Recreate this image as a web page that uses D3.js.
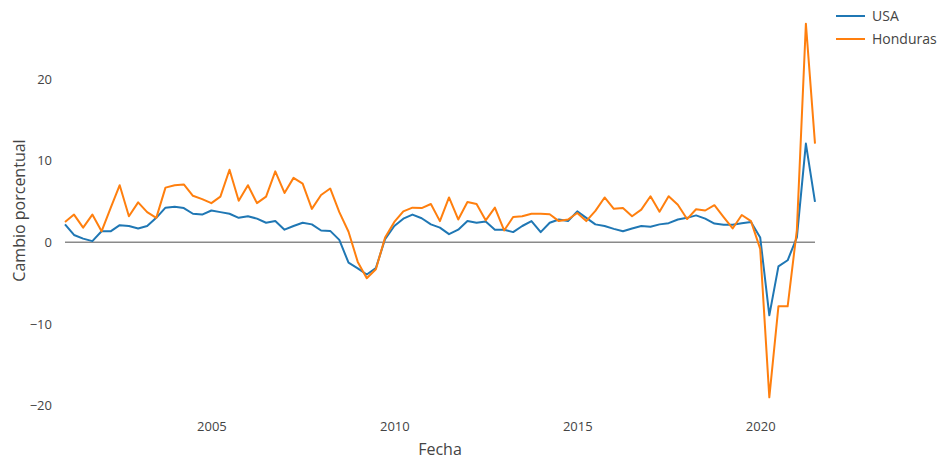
<!DOCTYPE html>
<html lang="es">
<head>
  <meta charset="UTF-8">
  <title>Cambio porcentual</title>
  <script src="https://d3js.org/d3.v7.min.js"></script>
  <style>
    body {
      margin: 0;
      background-color: #ffffff;
      font-family: "Open Sans", Verdana, Arial, sans-serif;
    }
    svg text {
      fill: #444444;
    }
  </style>
</head>
<body>
  <div id="chart"></div>

  <script>
    // quarterly series, 2001Q1 .. 2021Q3
    const firstQuarter = new Date(2001, 0, 1);
    const lastQuarter = new Date(2021, 6, 1);

    const usa = [
      2.2, 0.9, 0.45, 0.15, 1.35, 1.35, 2.1, 2.0, 1.7, 2.0,
      3.0, 4.25, 4.35, 4.2, 3.5, 3.4, 3.9, 3.7, 3.5, 3.0,
      3.2, 2.9, 2.4, 2.6, 1.55, 2.0, 2.4, 2.2, 1.45, 1.4,
      0.3, -2.5, -3.2, -3.95, -3.15, 0.4, 2.0, 2.9, 3.4, 2.95,
      2.2, 1.8, 1.0, 1.55, 2.6, 2.4, 2.55, 1.55, 1.55, 1.25,
      2.0, 2.6, 1.25, 2.4, 2.8, 2.6, 3.8, 3.0, 2.2, 2.0,
      1.65, 1.35, 1.7, 2.0, 1.9, 2.2, 2.35, 2.8, 3.0, 3.3,
      2.9, 2.3, 2.15, 2.15, 2.35, 2.5, 0.6, -8.95, -2.95, -2.2,
      0.6, 12.1, 4.95
    ];

    const honduras = [
      2.5, 3.4, 1.8, 3.4, 1.35, 4.2, 7.0, 3.2, 4.9, 3.7,
      3.0, 6.7, 7.0, 7.1, 5.7, 5.3, 4.8, 5.6, 8.9, 5.1,
      7.0, 4.8, 5.6, 8.7, 6.05, 7.9, 7.2, 4.1, 5.8, 6.6,
      3.7, 1.3, -2.4, -4.4, -3.3, 0.6, 2.5, 3.8, 4.25, 4.2,
      4.7, 2.6, 5.5, 2.8, 4.95, 4.7, 2.7, 4.25, 1.45, 3.1,
      3.2, 3.5, 3.5, 3.45, 2.6, 2.8, 3.6, 2.6, 3.85, 5.5,
      4.1, 4.2, 3.2, 4.0, 5.65, 3.75, 5.65, 4.6, 2.85, 4.05,
      3.9, 4.55, 3.1, 1.7, 3.35, 2.6, -0.8, -19.0, -7.85, -7.85,
      1.5, 26.8, 12.1
    ];

    const seriesNames = ['USA', 'Honduras'];
    const seriesColors = ['#1f77b4', '#ff7f0e'];
    const xTickYears = [2005, 2010, 2015, 2020];
    const yTicks = [-20, -10, 0, 10, 20];

    const width = 937, height = 461;
    const plot = { left: 65, right: 815, top: 5, bottom: 416 };

    const dates = d3.timeMonth.every(3).range(firstQuarter, d3.timeMonth.offset(lastQuarter, 1));

    const svg = d3.select('#chart')
      .append('svg')
      .attr('width', width)
      .attr('height', height);

    const x = d3.scaleTime()
      .domain([firstQuarter, lastQuarter])
      .range([plot.left, plot.right]);

    const allValues = usa.concat(honduras);
    const yMin = d3.min(allValues), yMax = d3.max(allValues);
    const pad = (yMax - yMin) * 0.05;
    const y = d3.scaleLinear()
      .domain([yMin - pad, yMax + pad])
      .range([plot.bottom, plot.top]);

    const minus = (v) => String(v).replace('-', '\u2212');

    // y axis
    const yAxis = svg.append('g')
      .attr('transform', `translate(${plot.left}, 0)`)
      .call(d3.axisLeft(y).tickValues(yTicks).tickSize(0).tickPadding(13).tickFormat(minus));
    yAxis.select('.domain').remove();
    yAxis.selectAll('text').style('font-size', '13px').style('font-family', '"Open Sans", Verdana, sans-serif');

    // x axis
    const xAxis = svg.append('g')
      .attr('transform', `translate(0, ${plot.bottom})`)
      .call(d3.axisBottom(x)
        .tickValues(xTickYears.map((yr) => new Date(yr, 0, 1)))
        .tickSize(0).tickPadding(6)
        .tickFormat(d3.timeFormat('%Y')));
    xAxis.select('.domain').remove();
    xAxis.selectAll('text').style('font-size', '13px').style('font-family', '"Open Sans", Verdana, sans-serif');

    // zero line
    svg.append('line')
      .attr('x1', plot.left).attr('x2', plot.right)
      .attr('y1', y(0)).attr('y2', y(0))
      .attr('stroke', '#8a8a8a')
      .attr('stroke-width', 1.5);

    // axis titles
    svg.append('text')
      .attr('x', (plot.left + plot.right) / 2)
      .attr('y', 455)
      .attr('text-anchor', 'middle')
      .style('font-size', '16px')
      .text('Fecha');

    svg.append('text')
      .attr('transform', `translate(25, ${(plot.top + plot.bottom) / 2}) rotate(-90)`)
      .attr('text-anchor', 'middle')
      .style('font-size', '16px')
      .text('Cambio porcentual');

    // lines
    const line = d3.line()
      .x((d, i) => x(dates[i]))
      .y((d) => y(d));

    [usa, honduras].forEach((values, k) => {
      svg.append('path')
        .datum(values)
        .attr('d', line)
        .attr('fill', 'none')
        .attr('stroke', seriesColors[k])
        .attr('stroke-width', 2)
        .attr('stroke-linejoin', 'round');
    });

    // legend
    const legend = svg.append('g').attr('transform', 'translate(836, 16)');
    seriesNames.forEach((name, k) => {
      const item = legend.append('g').attr('transform', `translate(0, ${k * 23})`);
      item.append('line')
        .attr('x1', 0).attr('x2', 29)
        .attr('stroke', seriesColors[k])
        .attr('stroke-width', 2);
      item.append('text')
        .attr('x', 36)
        .attr('dy', '0.35em')
        .style('font-size', '14px')
        .text(name);
    });
  </script>
</body>
</html>
